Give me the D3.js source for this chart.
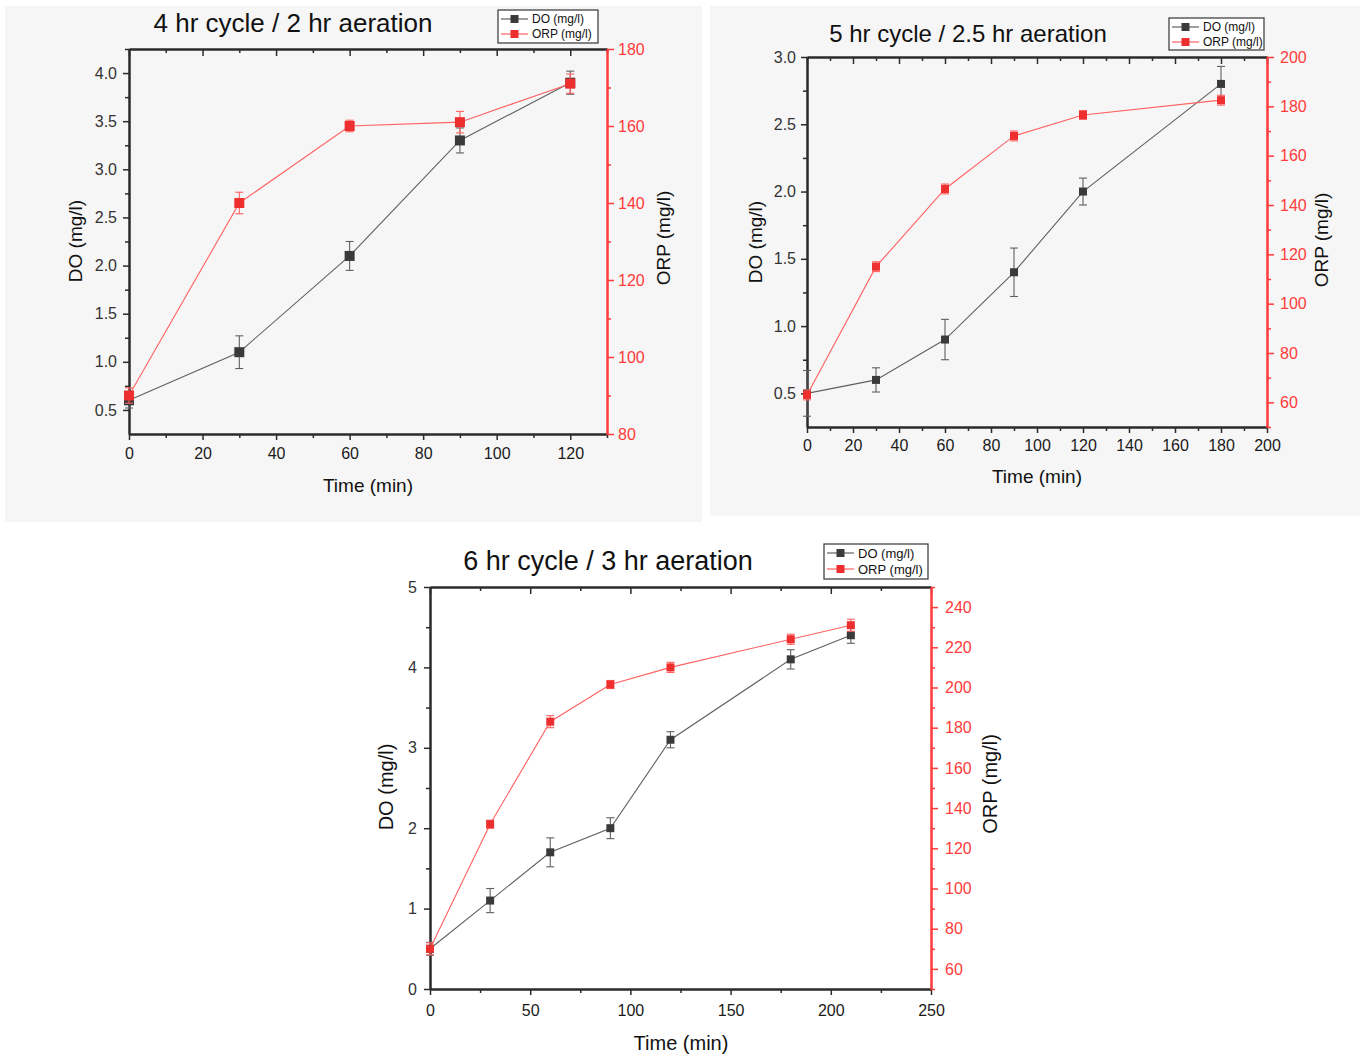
<!DOCTYPE html>
<html>
<head>
<meta charset="utf-8">
<script src="https://cdn.jsdelivr.net/npm/d3@7"></script>
<style>
  html, body { margin: 0; padding: 0; background: #ffffff; }
  svg { display: block; font-family: "Liberation Sans", Arial, sans-serif; }
</style>
</head>
<body>
<script>
// ---------------- DATA ----------------
// Chart 1: 4 hr cycle / 2 hr aeration
const c1Title = "4 hr cycle / 2 hr aeration";
const c1Time = [0, 30, 60, 90, 120];
const c1DO = [0.6, 1.1, 2.1, 3.3, 3.9];
const c1DOErr = [0.08, 0.17, 0.15, 0.13, 0.12];
const c1ORP = [90, 140, 160, 161, 171];
const c1ORPErr = [2, 2.8, 1.5, 2.8, 2.5];
const c1XTicks = [0, 20, 40, 60, 80, 100, 120];
const c1DOTicks = [0.5, 1.0, 1.5, 2.0, 2.5, 3.0, 3.5, 4.0];
const c1ORPTicks = [80, 100, 120, 140, 160, 180];

// Chart 2: 5 hr cycle / 2.5 hr aeration
const c2Title = "5 hr cycle / 2.5 hr aeration";
const c2Time = [0, 30, 60, 90, 120, 180];
const c2DO = [0.5, 0.6, 0.9, 1.4, 2.0, 2.8];
const c2DOErr = [0.17, 0.09, 0.15, 0.18, 0.1, 0.13];
const c2ORP = [63, 115, 146.5, 168, 176.5, 182.5];
const c2ORPErr = [2, 2, 2, 2, 1.8, 2];
const c2XTicks = [0, 20, 40, 60, 80, 100, 120, 140, 160, 180, 200];
const c2DOTicks = [0.5, 1.0, 1.5, 2.0, 2.5, 3.0];
const c2ORPTicks = [60, 80, 100, 120, 140, 160, 180, 200];

// Chart 3: 6 hr cycle / 3 hr aeration
const c3Title = "6 hr cycle / 3 hr aeration";
const c3Time = [0, 30, 60, 90, 120, 180, 210];
const c3DO = [0.5, 1.1, 1.7, 2.0, 3.1, 4.1, 4.4];
const c3DOErr = [0.08, 0.15, 0.18, 0.13, 0.1, 0.12, 0.1];
const c3ORP = [70, 132, 183, 201.5, 210, 224, 231];
const c3ORPErr = [3, 2, 3, 2, 2.5, 2.5, 3];
const c3XTicks = [0, 50, 100, 150, 200, 250];
const c3DOTicks = [0, 1, 2, 3, 4, 5];
const c3ORPTicks = [60, 80, 100, 120, 140, 160, 180, 200, 220, 240];

const labelDO = "DO (mg/l)";
const labelORP = "ORP (mg/l)";
const labelTime = "Time (min)";
const legendNames = ["DO (mg/l)", "ORP (mg/l)"];

// ---------------- STYLE ----------------
const DARK = "#2b2b2b";
const DO_MARK = "#3a3a3a";
const DO_LINE = "#606060";
const RED = "#ff3b3b";
const RED_LINE = "#ff6060";
const RED_MARK = "#ee2f2f";

const svg = d3.select("body").append("svg")
  .attr("width", 1360).attr("height", 1055);

// light background panels for the two upper figures
svg.append("rect").attr("x", 5).attr("y", 6).attr("width", 697).attr("height", 516).attr("fill", "#f6f6f6");
svg.append("rect").attr("x", 710).attr("y", 6).attr("width", 650).attr("height", 510).attr("fill", "#f6f6f6");

function drawChart(cfg) {
  const g = svg.append("g");
  const x = d3.scaleLinear().domain(cfg.xDomain).range([cfg.left, cfg.right]);
  const yL = d3.scaleLinear().domain(cfg.yLDomain).range([cfg.bottom, cfg.top]);
  const yR = d3.scaleLinear().domain(cfg.yRDomain).range([cfg.bottom, cfg.top]);

  function styleAxis(sel, color, width, fontSize, textColor) {
    sel.selectAll(".domain").attr("stroke", color).attr("stroke-width", width);
    sel.selectAll(".tick line").attr("stroke", color).attr("stroke-width", 1.5);
    sel.selectAll(".tick text").attr("fill", textColor).attr("font-size", fontSize)
      .attr("font-family", "'Liberation Sans', Arial, sans-serif");
  }

  const gx = g.append("g").attr("transform", `translate(0,${cfg.bottom})`);
  gx.call(d3.axisBottom(x).tickValues(cfg.xMinor).tickSize(4).tickSizeOuter(0).tickFormat(""));
  styleAxis(gx, DARK, 2, 16, DARK);
  const gxM = g.append("g").attr("transform", `translate(0,${cfg.bottom})`);
  gxM.call(d3.axisBottom(x).tickValues(cfg.xTicks).tickSize(6).tickSizeOuter(0).tickPadding(cfg.xPad)
    .tickFormat(d3.format("d")));
  styleAxis(gxM, DARK, 2, cfg.tickFont, "#1a1a1a");

  const gt = g.append("g").attr("transform", `translate(0,${cfg.top})`);
  gt.call(d3.axisTop(x).tickValues(cfg.xMinor).tickSize(-4).tickSizeOuter(0).tickFormat(""));
  styleAxis(gt, DARK, 2, 16, DARK);
  const gtM = g.append("g").attr("transform", `translate(0,${cfg.top})`);
  gtM.call(d3.axisTop(x).tickValues(cfg.xTicks).tickSize(-7).tickSizeOuter(0).tickFormat(""));
  styleAxis(gtM, DARK, 2, 16, DARK);

  const gl = g.append("g").attr("transform", `translate(${cfg.left},0)`);
  gl.call(d3.axisLeft(yL).tickValues(cfg.yLMinor).tickSize(4).tickSizeOuter(0).tickFormat(""));
  styleAxis(gl, DARK, 2, 16, DARK);
  const glM = g.append("g").attr("transform", `translate(${cfg.left},0)`);
  glM.call(d3.axisLeft(yL).tickValues(cfg.yLTicks).tickSize(6).tickSizeOuter(0).tickPadding(cfg.yLPad)
    .tickFormat(d3.format(cfg.yLFormat)));
  styleAxis(glM, DARK, 2, cfg.tickFont, "#333333");

  const gr = g.append("g").attr("transform", `translate(${cfg.right},0)`);
  gr.call(d3.axisRight(yR).tickValues(cfg.yRMinor).tickSize(4).tickSizeOuter(0).tickFormat(""));
  styleAxis(gr, RED, 2, 16, RED);
  const grM = g.append("g").attr("transform", `translate(${cfg.right},0)`);
  grM.call(d3.axisRight(yR).tickValues(cfg.yRTicks).tickSize(7).tickSizeOuter(0).tickPadding(cfg.yRPad)
    .tickFormat(d3.format("d")));
  styleAxis(grM, RED, 2, cfg.tickFont, RED);

  function series(vals, errs, yScale, lineColor, markColor, ms) {
    const pts = cfg.time.map((t, i) => ({ t, v: vals[i], e: errs[i] }));
    g.append("path").datum(pts)
      .attr("fill", "none").attr("stroke", lineColor).attr("stroke-width", 1.1)
      .attr("d", d3.line().x(d => x(d.t)).y(d => yScale(d.v)));
    const eb = g.append("g").attr("stroke", lineColor).attr("stroke-width", 1.1);
    pts.forEach(d => {
      eb.append("line").attr("x1", x(d.t)).attr("x2", x(d.t))
        .attr("y1", yScale(d.v - d.e)).attr("y2", yScale(d.v + d.e));
      [d.v - d.e, d.v + d.e].forEach(vv => {
        eb.append("line").attr("x1", x(d.t) - 4).attr("x2", x(d.t) + 4)
          .attr("y1", yScale(vv)).attr("y2", yScale(vv));
      });
    });
    g.append("g").selectAll("rect").data(pts).join("rect")
      .attr("x", d => x(d.t) - ms / 2).attr("y", d => yScale(d.v) - ms / 2)
      .attr("width", ms).attr("height", ms).attr("fill", markColor);
  }
  series(cfg.DO, cfg.DOErr, yL, DO_LINE, DO_MARK, cfg.ms);
  series(cfg.ORP, cfg.ORPErr, yR, RED_LINE, RED_MARK, cfg.ms);

  g.append("text").attr("x", cfg.titleX).attr("y", cfg.titleY).attr("text-anchor", "middle")
    .attr("font-size", cfg.titleFont).attr("fill", "#111").text(cfg.title);
  g.append("text").attr("transform", `translate(${cfg.doLabX},${cfg.doLabY}) rotate(-90)`)
    .attr("text-anchor", "middle").attr("dominant-baseline", "central")
    .attr("font-size", cfg.labFont).attr("fill", "#111").text(labelDO);
  g.append("text").attr("transform", `translate(${cfg.orpLabX},${cfg.orpLabY}) rotate(-90)`)
    .attr("text-anchor", "middle").attr("dominant-baseline", "central")
    .attr("font-size", cfg.labFont).attr("fill", "#111").text(labelORP);
  g.append("text").attr("x", cfg.timeLabX).attr("y", cfg.timeLabY)
    .attr("text-anchor", "middle").attr("dominant-baseline", "central")
    .attr("font-size", cfg.labFont).attr("fill", "#111").text(labelTime);

  const L = cfg.legend;
  const lg = g.append("g");
  lg.append("rect").attr("x", L.x).attr("y", L.y).attr("width", L.w).attr("height", L.h)
    .attr("fill", "#ffffff").attr("stroke", "#444").attr("stroke-width", 1.3);
  const lcols = [[DO_LINE, DO_MARK], [RED_LINE, RED_MARK]];
  legendNames.forEach((name, i) => {
    const yy = L.y + L.row0 + i * L.rowGap;
    lg.append("line").attr("x1", L.x + 3).attr("x2", L.x + 30).attr("y1", yy).attr("y2", yy)
      .attr("stroke", lcols[i][0]).attr("stroke-width", 1.2);
    lg.append("rect").attr("x", L.x + 16.5 - 4).attr("y", yy - 4).attr("width", 8).attr("height", 8)
      .attr("fill", lcols[i][1]);
    lg.append("text").attr("x", L.x + 34).attr("y", yy).attr("dominant-baseline", "central")
      .attr("font-size", L.font).attr("fill", "#111").text(name);
  });
}

drawChart({
  title: c1Title, time: c1Time, DO: c1DO, DOErr: c1DOErr, ORP: c1ORP, ORPErr: c1ORPErr,
  left: 129, right: 607, top: 49, bottom: 434,
  xDomain: [0, 130], xTicks: c1XTicks, xMinor: d3.range(10, 131, 20),
  yLDomain: [0.25, 4.25], yLTicks: c1DOTicks, yLMinor: d3.range(0.75, 4.3, 0.5), yLFormat: ".1f",
  yRDomain: [80, 180], yRTicks: c1ORPTicks, yRMinor: d3.range(90, 180, 20),
  tickFont: 16, xPad: 8, yLPad: 6, yRPad: 4, ms: 10,
  titleX: 293, titleY: 32, titleFont: 26,
  doLabX: 75, doLabY: 241, orpLabX: 663, orpLabY: 238, timeLabX: 368, timeLabY: 485, labFont: 19,
  legend: { x: 498, y: 10, w: 100, h: 33, row0: 9, rowGap: 15, font: 12 }
});

drawChart({
  title: c2Title, time: c2Time, DO: c2DO, DOErr: c2DOErr, ORP: c2ORP, ORPErr: c2ORPErr,
  left: 807, right: 1267, top: 57, bottom: 427,
  xDomain: [0, 200], xTicks: c2XTicks, xMinor: d3.range(10, 200, 20),
  yLDomain: [0.25, 3.0], yLTicks: c2DOTicks, yLMinor: d3.range(0.75, 3.0, 0.5), yLFormat: ".1f",
  yRDomain: [50, 200], yRTicks: c2ORPTicks, yRMinor: d3.range(50, 200, 20),
  tickFont: 16, xPad: 7, yLPad: 5, yRPad: 6, ms: 8,
  titleX: 968, titleY: 42, titleFont: 24,
  doLabX: 755, doLabY: 242, orpLabX: 1321, orpLabY: 240, timeLabX: 1037, timeLabY: 476, labFont: 19,
  legend: { x: 1169, y: 18, w: 95, h: 32, row0: 9, rowGap: 15, font: 12 }
});

drawChart({
  title: c3Title, time: c3Time, DO: c3DO, DOErr: c3DOErr, ORP: c3ORP, ORPErr: c3ORPErr,
  left: 430, right: 931, top: 587, bottom: 989,
  xDomain: [0, 250], xTicks: c3XTicks, xMinor: d3.range(25, 250, 50),
  yLDomain: [0, 5], yLTicks: c3DOTicks, yLMinor: d3.range(0.5, 5, 1), yLFormat: "d",
  yRDomain: [50, 250], yRTicks: c3ORPTicks, yRMinor: d3.range(50, 251, 20),
  tickFont: 16, xPad: 10, yLPad: 7, yRPad: 7, ms: 8,
  titleX: 608, titleY: 570, titleFont: 27,
  doLabX: 386, doLabY: 787, orpLabX: 990, orpLabY: 784, timeLabX: 681, timeLabY: 1043, labFont: 20,
  legend: { x: 824, y: 544, w: 104, h: 35, row0: 9, rowGap: 16, font: 13 }
});
</script>
</body>
</html>
